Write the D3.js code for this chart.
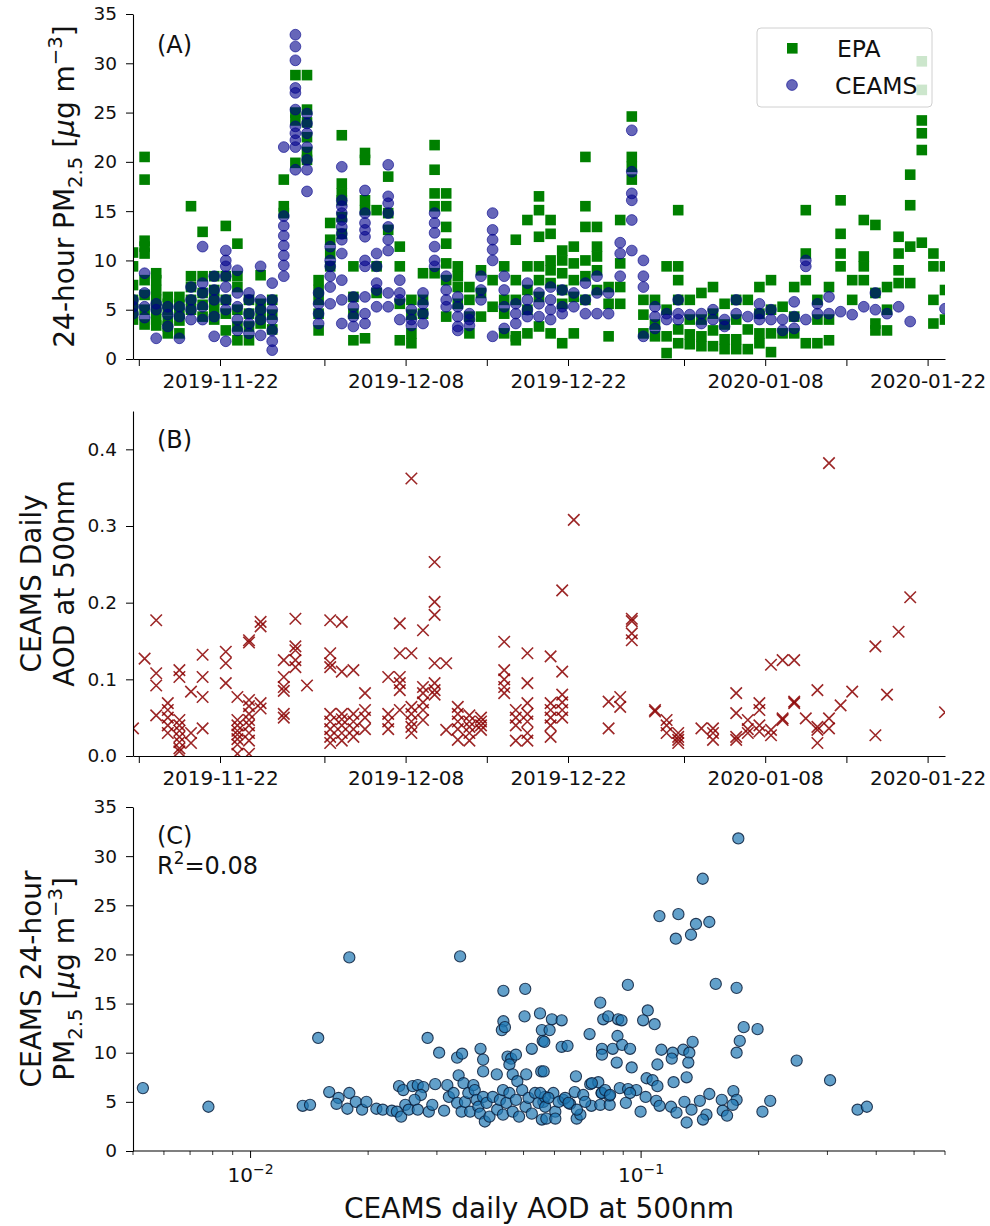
<!DOCTYPE html>
<html>
<head>
<meta charset="utf-8">
<script src="https://cdn.jsdelivr.net/npm/d3@7"></script>
<style>
  body { margin: 0; background: #fff; }
  text { font-family: "DejaVu Sans", sans-serif; fill: #111; }
</style>
</head>
<body>
<svg id="fig" width="990" height="1226"></svg>
<script>
// ---- data -------------------------------------------------------------
// Daily records start on this day; entry i of each daily list is day i (sampled at noon).
const firstDay = "2019-11-14";

// EPA monitor 24-hour PM2.5 (ug m-3), one list per day
const epaPm = [
  [10.8, 9.4, 7.5, 6.0, 5.0, 4.0], [20.5, 18.2, 12.0, 11.4, 10.7, 8.0, 6.5, 5.0, 3.5], [8.7, 8.0, 7.0, 6.0, 5.0, 4.0, 3.4],
  [6.3, 5.6, 5.0, 3.9, 3.3, 2.6], [6.3, 5.5, 4.6, 3.9, 2.6], [15.5, 8.4, 7.3, 6.0, 5.0], [12.9, 8.4, 6.7, 5.5, 4.3],
  [8.4, 7.0, 6.0, 5.0, 4.0], [13.5, 8.4, 6.0, 4.6, 2.9], [11.7, 8.4, 7.3, 5.0, 3.3, 1.9], [6.0, 4.6, 3.3, 1.9],
  [8.5, 5.6, 4.6, 3.6], [6.0, 4.5, 3.0], [18.2, 15.5, 14.8], [28.8, 25.0, 24.2, 19.9],
  [28.8, 25.3, 24.0, 22.5, 21.0, 20.2], [8.0, 7.0, 6.0, 4.6, 2.9], [13.8, 12.1, 10.7, 9.4],
  [22.7, 17.8, 16.8, 16.1, 14.4, 12.7], [9.4, 6.3, 4.6, 1.9], [20.9, 20.2, 16.1, 15.1, 2.1],
  [15.1, 9.4, 6.7], [18.5, 14.8, 13.1], [11.4, 9.4, 5.6, 1.9], [6.0, 4.5, 2.6, 1.6], [8.7, 6.0, 4.6],
  [21.7, 19.2, 16.8, 15.5, 8.7], [16.8, 15.5, 13.4, 11.7, 9.7, 8.0, 4.3], [9.4, 8.4, 7.3, 5.6],
  [7.3, 6.0, 4.3, 2.6], [9.0, 6.7, 4.3], [8.0, 5.3], [9.4, 6.0, 4.6, 2.6], [12.1, 8.0, 6.0, 2.3, 1.9],
  [14.1, 9.4, 7.0, 5.0, 2.6], [16.5, 15.1, 12.4, 9.4, 8.0, 6.3, 3.3], [14.1, 12.7, 10.0, 9.0, 7.7, 2.6],
  [11.0, 10.0, 8.7, 7.0, 5.6, 1.6], [11.4, 9.7, 8.0, 6.3, 2.6], [20.5, 15.5, 13.4, 10.0, 8.4, 6.0],
  [13.4, 11.4, 10.4, 9.0, 7.0], [7.3, 5.6, 2.3], [14.1, 9.7, 7.3, 5.6], [24.6, 20.5, 19.5, 18.2],
  [6.0, 4.5, 2.6], [6.0, 3.5, 2.3], [9.4, 5.0, 2.3, 0.6], [15.1, 9.4, 8.0, 6.0, 3.0, 1.6],
  [6.0, 4.0, 2.5, 1.5], [6.7, 4.0, 2.3, 1.3], [7.3, 4.6, 2.9, 1.3], [5.6, 3.5, 2.0, 1.0],
  [6.0, 4.0, 2.0, 1.0], [6.0, 3.0, 1.0], [7.3, 4.6, 2.6, 1.6], [8.0, 5.0, 2.6, 0.7], [5.3, 2.6],
  [7.3, 4.3, 2.6], [15.1, 10.7, 8.0, 1.6], [6.0, 4.0, 1.6], [7.3, 4.0, 1.9], [16.1, 12.7, 10.7, 9.4],
  [8.0, 6.0], [14.1, 10.4, 9.4, 8.0], [13.6, 6.7, 3.6, 2.9], [7.3, 5.0, 2.9],
  [12.4, 10.7, 9.0, 7.7], [18.7, 15.6, 11.4, 7.7], [30.2, 27.3, 24.2, 22.9, 21.2, 11.8],
  [10.7, 9.4, 6.0, 3.6], [9.4, 7.0, 4.0]
];

// CEAMS 24-hour PM2.5 (ug m-3), one list per day
const ceamsPm = [
  [6.0, 5.3, 4.6], [8.7, 6.7, 5.3, 4.2], [5.6, 5.0, 2.1], [5.3, 4.5, 3.3], [5.3, 4.3, 2.1],
  [7.3, 6.0, 5.0, 4.0], [11.4, 7.7, 6.7, 5.3, 4.0], [8.4, 7.0, 6.0, 4.3, 2.3],
  [11.0, 10.0, 9.4, 8.4, 7.3, 6.0, 5.0, 1.8], [9.0, 6.7, 5.3, 4.0, 2.9], [6.7, 6.0, 4.6, 3.6, 2.6],
  [9.4, 6.0, 5.0, 4.0, 2.4], [7.7, 6.0, 5.0, 4.0, 2.9, 1.8, 0.9],
  [21.5, 14.5, 13.5, 12.5, 11.5, 10.5, 9.5, 8.4],
  [32.9, 31.7, 30.3, 27.5, 27.0, 25.3, 23.6, 22.9, 22.2, 21.5, 19.2],
  [24.9, 23.9, 22.9, 21.5, 20.2, 19.2, 17.0], [6.7, 5.6, 4.6, 3.6], [11.4, 10.0, 9.4, 8.4, 7.3, 5.6],
  [19.5, 16.1, 15.5, 14.8, 14.1, 13.4, 12.7, 12.1, 10.7, 8.0, 6.0, 3.6], [6.3, 5.3, 4.3, 3.3],
  [17.1, 14.8, 13.8, 13.1, 12.4, 10.0, 9.4, 6.3, 4.6, 3.6], [10.7, 9.4, 7.7, 7.0, 5.3],
  [19.7, 16.5, 15.8, 14.8, 13.4, 12.1, 11.0, 6.7, 5.3], [8.0, 6.7, 6.0, 4.0], [5.0, 4.0, 3.4],
  [6.7, 5.6, 4.6, 3.6], [14.8, 13.8, 12.8, 11.4, 10.0, 9.4], [8.4, 7.0, 6.0, 5.3],
  [6.3, 5.3, 4.3, 3.3, 2.9], [4.6, 4.0, 3.4], [8.4, 7.0, 6.0], [14.8, 13.1, 12.1, 11.1, 10.0, 2.3],
  [8.4, 7.0, 5.3, 3.1], [5.6, 4.6, 3.6], [7.7, 6.0, 5.0, 4.3], [6.7, 5.6, 4.3], [7.3, 6.0, 5.0, 4.0],
  [7.0, 5.3, 4.6], [6.7, 5.3], [7.7, 6.0, 4.6], [8.4, 6.7, 4.6], [6.7, 4.6], [11.8, 10.7, 8.4],
  [23.2, 19.0, 16.8, 16.1, 14.1, 11.0], [10.0, 8.4, 7.3, 2.3], [5.3, 4.3, 3.1], [4.6, 4.0],
  [6.0, 4.6, 4.0], [4.5], [4.6, 3.6], [5.0, 4.0], [4.0, 3.3], [6.0, 4.6], [4.3], [5.6, 4.6, 4.0],
  [5.0, 4.0], [4.0, 2.9], [5.8, 4.3, 3.1], [10.0, 9.4, 4.0], [5.6, 4.6], [6.3, 4.6], [4.8], [4.5],
  [5.3], [6.7, 5.0], [4.6], [5.3], [3.8], [], [], [5.1]
];

// CEAMS daily AOD at 500 nm, one list per day
const ceamsAod = [
  [0.036], [0.127], [0.177, 0.108, 0.092, 0.053], [0.069, 0.060, 0.050, 0.040, 0.030],
  [0.112, 0.103, 0.047, 0.040, 0.033, 0.025, 0.018, 0.010, 0.006], [0.084, 0.030, 0.017],
  [0.132, 0.103, 0.077, 0.036], [], [0.136, 0.121, 0.095],
  [0.077, 0.047, 0.040, 0.033, 0.028, 0.022, 0.015, 0.003],
  [0.151, 0.148, 0.073, 0.065, 0.055, 0.047, 0.040, 0.030, 0.020, 0.003],
  [0.175, 0.169, 0.069, 0.062], [], [0.125, 0.103, 0.090, 0.085, 0.055, 0.050],
  [0.179, 0.143, 0.138, 0.125, 0.116], [0.092], [],
  [0.177, 0.134, 0.121, 0.116, 0.055, 0.045, 0.035, 0.025, 0.017],
  [0.175, 0.110, 0.055, 0.048, 0.040, 0.030, 0.020], [0.112, 0.055, 0.045, 0.035, 0.025],
  [0.082, 0.060, 0.050, 0.035], [], [0.103, 0.055, 0.045, 0.035],
  [0.173, 0.134, 0.103, 0.095, 0.086, 0.060], [0.362, 0.134, 0.064, 0.055, 0.045, 0.038, 0.030],
  [0.164, 0.090, 0.082, 0.070, 0.060, 0.047], [0.253, 0.201, 0.184, 0.121, 0.095, 0.086, 0.080],
  [0.121, 0.034], [0.064, 0.055, 0.045, 0.035, 0.021], [0.053, 0.045, 0.038, 0.030, 0.020],
  [0.050, 0.045, 0.040, 0.034], [], [0.149, 0.112, 0.100, 0.090, 0.082], [0.060, 0.050, 0.040, 0.020],
  [0.134, 0.095, 0.069, 0.055, 0.045, 0.030, 0.020], [], [0.130, 0.069, 0.060, 0.050, 0.040, 0.025],
  [0.216, 0.110, 0.080, 0.070, 0.060, 0.050], [0.308], [], [], [0.071, 0.036], [0.077, 0.064],
  [0.179, 0.176, 0.160, 0.151], [], [0.060, 0.058], [0.047, 0.040, 0.030], [0.030, 0.025, 0.021, 0.017],
  [], [0.036], [0.036, 0.030, 0.021], [], [0.082, 0.056, 0.025, 0.021], [0.047, 0.035, 0.030],
  [0.069, 0.060, 0.040, 0.032], [0.119, 0.034, 0.027], [0.125, 0.049, 0.047], [0.125, 0.071, 0.069],
  [0.049], [0.086, 0.038, 0.034, 0.017], [0.382, 0.049, 0.036], [0.066], [0.084], [], [0.143, 0.027],
  [0.080], [0.162], [0.207], [], [], [0.057]
];

// Paired CEAMS AOD and PM2.5 for the scatter panel
const scatterAod = [
  0.0053, 0.0078, 0.0136, 0.0142, 0.0149, 0.0159, 0.0168, 0.0166, 0.0179, 0.0179, 0.0177, 0.0186,
  0.0193, 0.0198, 0.0210, 0.0218, 0.0230, 0.0284, 0.0304, 0.0338, 0.0348, 0.0344, 0.0341, 0.0388,
  0.0394, 0.0394, 0.0427, 0.0444, 0.0505, 0.0444, 0.0440, 0.0448, 0.0503, 0.0455, 0.0465, 0.0478,
  0.0460, 0.0469, 0.0482, 0.0508, 0.0525, 0.0551, 0.0555, 0.0557, 0.0560, 0.0557,
  0.1774, 0.1438, 0.1114, 0.1246, 0.1382, 0.1495, 0.1227, 0.1342, 0.0925, 0.1553, 0.1756, 0.0786,
  0.1040, 0.1012, 0.1083, 0.0800, 0.0824, 0.0873, 0.0891, 0.0591, 0.0626, 0.0583, 0.0565, 0.0738,
  0.0626, 0.0648, 0.0870, 0.0794, 0.0794, 0.0846, 0.0894, 0.0937, 0.0866, 0.0946, 0.0563, 0.0681,
  0.1831, 0.1987, 0.1789, 0.1756, 0.2502, 0.3047, 0.3583, 0.3785, 0.2045, 0.2141, 0.1609, 0.1723,
  0.1756, 0.1716, 0.1618, 0.1660, 0.1495, 0.1414, 0.1470, 0.1440, 0.1355, 0.1282, 0.1329, 0.1321,
  0.1308, 0.1205, 0.1198, 0.1127, 0.1101, 0.1211, 0.1033, 0.1070, 0.1101, 0.1027, 0.1093, 0.1115,
  0.0997, 0.1193, 0.1232, 0.1291, 0.1308, 0.1346, 0.0882, 0.0926, 0.0972, 0.0914, 0.0741, 0.0777,
  0.0792, 0.0829, 0.0676, 0.0711, 0.0746, 0.0786, 0.0831, 0.0684, 0.0699, 0.0596, 0.0632, 0.0658,
  0.0562, 0.0572, 0.0603, 0.0603,
  0.0240, 0.0246, 0.0260, 0.0268, 0.0277, 0.0273, 0.0263, 0.0249, 0.0237, 0.0243, 0.0254, 0.0268,
  0.0286, 0.0292, 0.0297, 0.0313, 0.0319, 0.0322, 0.0331, 0.0338, 0.0347, 0.0351, 0.0354, 0.0361,
  0.0365, 0.0372, 0.0375, 0.0379, 0.0383, 0.0387, 0.0394, 0.0398, 0.0402, 0.0409, 0.0417, 0.0428,
  0.0435, 0.0443, 0.0443, 0.0452, 0.0460, 0.0469, 0.0478, 0.0487, 0.0496, 0.0506, 0.0515, 0.0525,
  0.0535, 0.0546, 0.0567, 0.0552, 0.0568, 0.0579, 0.0615, 0.0639, 0.0652, 0.0685, 0.0719, 0.0748,
  0.0793, 0.0809, 0.0833, 0.0937
];
const scatterPm = [
  6.4, 4.5, 4.6, 4.7, 11.5, 6.0, 5.4, 4.8, 19.7, 5.9, 4.3, 5.0,
  4.2, 5.0, 4.3, 4.2, 4.1, 11.5, 10.0, 9.5, 9.9, 19.8, 7.7, 10.4,
  9.3, 8.1, 7.8, 16.3, 16.5, 13.2, 12.3, 12.6, 13.7, 9.6, 9.4, 9.8,
  8.8, 7.8, 7.1, 7.8, 10.4, 14.0, 8.1, 12.3, 11.2, 3.2,
  31.8, 27.7, 23.9, 24.1, 23.1, 23.3, 21.6, 22.0, 16.9, 17.0, 16.6, 15.1,
  14.3, 13.3, 12.9, 13.4, 13.7, 13.4, 13.3, 13.4, 13.3, 12.3, 11.1, 11.9,
  10.6, 10.7, 11.7, 10.4, 9.8, 10.4, 10.8, 10.4, 9.0, 8.5, 8.1, 7.6,
  12.6, 12.4, 11.2, 10.0, 9.2, 7.2, 4.2, 4.5, 4.0, 5.1, 5.2, 6.1,
  5.2, 4.7, 4.1, 3.6, 5.8, 5.1, 3.7, 3.2, 11.1, 10.3, 10.0, 9.0,
  7.5, 10.0, 9.4, 10.3, 8.8, 7.0, 7.4, 7.2, 6.6, 5.5, 5.1, 4.6,
  4.0, 4.5, 3.9, 5.0, 2.9, 4.2, 6.4, 6.3, 6.2, 4.9, 6.8, 7.0,
  5.9, 5.6, 6.0, 5.7, 4.6, 4.7, 4.7, 3.3, 3.7, 5.9, 5.2, 4.8,
  5.0, 3.3, 4.0, 3.3,
  6.6, 6.2, 6.6, 6.7, 6.5, 5.7, 5.2, 4.7, 4.0, 3.5, 4.2, 4.2,
  4.0, 4.7, 6.8, 4.1, 6.7, 5.5, 5.9, 4.9, 4.0, 6.9, 5.0, 5.9,
  4.0, 6.7, 6.2, 5.2, 4.5, 3.8, 5.5, 3.0, 4.9, 3.5, 5.5, 4.2,
  5.2, 6.2, 3.7, 4.9, 5.9, 4.0, 5.2, 3.5, 6.2, 4.5, 5.4, 3.8,
  5.9, 4.9, 5.5, 5.9, 4.5, 5.4, 5.0, 5.4, 4.9, 4.2, 5.0, 6.9,
  5.9, 6.2, 5.7, 5.9
];

// Axis ticks and labels
const pmTicks = [0, 5, 10, 15, 20, 25, 30, 35];
const aodTicks = [0.0, 0.1, 0.2, 0.3, 0.4];
const dateTicks = ["2019-11-15", "2019-11-22", "2019-12-01", "2019-12-08", "2019-12-15",
                   "2019-12-22", "2020-01-01", "2020-01-08", "2020-01-15", "2020-01-22"];
const dateLabels = ["", "2019-11-22", "", "2019-12-08", "", "2019-12-22", "", "2020-01-08", "", "2020-01-22"];
const logMajor = [0.01, 0.1];
const logMajorExp = ["\u22122", "\u22121"];
const logMinor = [0.005, 0.006, 0.007, 0.008, 0.009, 0.02, 0.03, 0.04, 0.05, 0.06, 0.07, 0.08, 0.09,
                  0.2, 0.3, 0.4, 0.5, 0.6];

// ---- layout -------------------------------------------------------------
const svg = d3.select("#fig");
const left = 133, right = 945;
const boxA = { top: 14, bottom: 359 };
const boxB = { top: 411, bottom: 756 };
const boxC = { top: 807, bottom: 1151 };

const parseDay = d3.utcParse("%Y-%m-%d");
const day0 = parseDay(firstDay);
const dayNoon = i => d3.utcHour.offset(d3.utcDay.offset(day0, i), 12);
const nDays = epaPm.length;

const x = d3.scaleUtc().domain([dayNoon(0), dayNoon(nDays - 1)]).range([left, right]);
const yA = d3.scaleLinear().domain([0, 35]).range([boxA.bottom, boxA.top]);
const yB = d3.scaleLinear().domain([0, 0.45]).range([boxB.bottom, boxB.top]);
const xC = d3.scaleLog().domain([0.005, 0.6]).range([left, right]);
const yC = d3.scaleLinear().domain([0, 35]).range([boxC.bottom, boxC.top]);

const flat = lists => lists.flatMap((vals, i) => vals.map(v => ({ t: dayNoon(i), v })));

// clip regions
const defs = svg.append("defs");
[["clipA", boxA], ["clipB", boxB], ["clipC", boxC]].forEach(([id, b]) => {
  defs.append("clipPath").attr("id", id).append("rect")
    .attr("x", left).attr("y", b.top).attr("width", right - left).attr("height", b.bottom - b.top);
});

function styleAxis(g, size) {
  g.select(".domain").attr("stroke", "#000").attr("stroke-width", 1.1);
  g.selectAll(".tick line").attr("stroke", "#000").attr("stroke-width", 1);
  g.selectAll(".tick text").attr("font-size", size).attr("fill", "#222")
    .attr("font-family", "DejaVu Sans");
}

function dateAxis(bottom) {
  const g = svg.append("g").attr("transform", `translate(0,${bottom})`)
    .call(d3.axisBottom(x).tickValues(dateTicks.map(parseDay))
      .tickFormat((d, i) => dateLabels[i]).tickSize(7).tickPadding(8).tickSizeOuter(0));
  styleAxis(g, 20);
}

function leftAxis(scale, ticks, fmt) {
  const g = svg.append("g").attr("transform", `translate(${left},0)`)
    .call(d3.axisLeft(scale).tickValues(ticks).tickFormat(fmt).tickSize(7).tickPadding(9).tickSizeOuter(0));
  styleAxis(g, 18.5);
}

// rich text: parts = [[text, kind]], kind in "", "sub", "sup", "it"
function richText(sel, parts, size) {
  sel.attr("font-size", size);
  let shift = 0;
  parts.forEach(([str, kind]) => {
    const t = sel.append("tspan").text(str);
    let target = 0;
    if (kind === "sub") { target = 0.28 * size; t.attr("font-size", size * 0.7); }
    if (kind === "sup") { target = -0.42 * size; t.attr("font-size", size * 0.7); }
    if (kind === "it") t.attr("font-style", "italic");
    t.attr("dy", target - shift);
    shift = target;
  });
}

function ylabelLines(cx, cy, lines, size, lineGap) {
  const n = lines.length;
  lines.forEach((parts, k) => {
    const off = (k - (n - 1)) * lineGap;
    const t = svg.append("text")
      .attr("transform", `translate(${cx + off},${cy}) rotate(-90)`)
      .attr("text-anchor", "middle");
    richText(t, parts, size);
  });
}

// ---- panel A: PM2.5 time series -------------------------------------------
const gA = svg.append("g").attr("clip-path", "url(#clipA)");
gA.selectAll("rect.epa").data(flat(epaPm)).join("rect")
  .attr("x", d => x(d.t) - 5.3).attr("y", d => yA(d.v) - 5.3)
  .attr("width", 10.6).attr("height", 10.6).attr("fill", "#008000");
gA.selectAll("circle.ceams").data(flat(ceamsPm)).join("circle")
  .attr("cx", d => x(d.t)).attr("cy", d => yA(d.v)).attr("r", 5.4)
  .attr("fill", "#00008b").attr("fill-opacity", 0.6)
  .attr("stroke", "#00008b").attr("stroke-opacity", 0.6).attr("stroke-width", 1);

leftAxis(yA, pmTicks, d3.format("d"));
dateAxis(boxA.bottom);
ylabelLines(74, (boxA.top + boxA.bottom) / 2,
  [[["24-hour PM", ""], ["2.5", "sub"], [" [", ""], ["\u03bc", "it"], ["g m", ""], ["\u22123", "sup"], ["]", ""]]],
  28, 0);
svg.append("text").attr("x", 157).attr("y", 53).attr("font-size", 24).text("(A)");

// legend
const lg = svg.append("g");
lg.append("rect").attr("x", 757).attr("y", 28).attr("width", 175).attr("height", 79)
  .attr("rx", 4).attr("fill", "#fff").attr("fill-opacity", 0.8)
  .attr("stroke", "#d0d0d0").attr("stroke-width", 1);
lg.append("rect").attr("x", 787).attr("y", 43).attr("width", 10.6).attr("height", 10.6).attr("fill", "#008000");
lg.append("circle").attr("cx", 792).attr("cy", 85).attr("r", 5.4)
  .attr("fill", "#00008b").attr("fill-opacity", 0.6)
  .attr("stroke", "#00008b").attr("stroke-opacity", 0.6);
lg.append("text").attr("x", 837).attr("y", 57).attr("font-size", 23.5).text("EPA");
lg.append("text").attr("x", 835).attr("y", 94).attr("font-size", 23.5).text("CEAMS");

// ---- panel B: AOD time series ---------------------------------------------
const gB = svg.append("g").attr("clip-path", "url(#clipB)");
const cross = d3.symbol().type(d3.symbolX).size(88);
gB.selectAll("path.aod").data(flat(ceamsAod)).join("path")
  .attr("transform", d => `translate(${x(d.t)},${yB(d.v)})`)
  .attr("d", cross).attr("fill", "none")
  .attr("stroke", "#8b0000").attr("stroke-width", 1.6).attr("stroke-opacity", 0.85);

leftAxis(yB, aodTicks, d3.format(".1f"));
dateAxis(boxB.bottom);
ylabelLines(74, (boxB.top + boxB.bottom) / 2,
  [[["CEAMS Daily", ""]], [["AOD at 500nm", ""]]], 28, 33);
svg.append("text").attr("x", 157).attr("y", 448).attr("font-size", 24).text("(B)");

// ---- panel C: PM2.5 vs AOD scatter ----------------------------------------
const gC = svg.append("g").attr("clip-path", "url(#clipC)");
gC.selectAll("circle.pair").data(d3.range(scatterAod.length)).join("circle")
  .attr("cx", i => xC(scatterAod[i])).attr("cy", i => yC(scatterPm[i])).attr("r", 5.6)
  .attr("fill", "#1f77b4").attr("fill-opacity", 0.7)
  .attr("stroke", "#0a1e3c").attr("stroke-opacity", 0.85).attr("stroke-width", 1.1);

leftAxis(yC, pmTicks, d3.format("d"));

const gx = svg.append("g").attr("transform", `translate(0,${boxC.bottom})`);
gx.append("line").attr("x1", left).attr("x2", right).attr("stroke", "#000").attr("stroke-width", 1.1);
gx.selectAll("line.minor").data(logMinor).join("line")
  .attr("x1", d => xC(d)).attr("x2", d => xC(d)).attr("y1", 0).attr("y2", 4)
  .attr("stroke", "#000").attr("stroke-width", 0.8);
gx.selectAll("line.major").data(logMajor).join("line")
  .attr("x1", d => xC(d)).attr("x2", d => xC(d)).attr("y1", 0).attr("y2", 7)
  .attr("stroke", "#000").attr("stroke-width", 1);
logMajor.forEach((v, k) => {
  const t = gx.append("text").attr("x", xC(v)).attr("y", 31).attr("text-anchor", "middle").attr("fill", "#222");
  richText(t, [["10", ""], [logMajorExp[k], "sup"]], 20);
});
svg.append("text").attr("x", (left + right) / 2).attr("y", 1218).attr("text-anchor", "middle")
  .attr("font-size", 28).text("CEAMS daily AOD at 500nm");

ylabelLines(74, (boxC.top + boxC.bottom) / 2,
  [[["CEAMS 24-hour", ""]],
   [["PM", ""], ["2.5", "sub"], [" [", ""], ["\u03bc", "it"], ["g m", ""], ["\u22123", "sup"], ["]", ""]]],
  28, 33);
svg.append("text").attr("x", 157).attr("y", 844).attr("font-size", 24).text("(C)");
const r2 = svg.append("text").attr("x", 157).attr("y", 874);
richText(r2, [["R", ""], ["2", "sup"], ["=0.08", ""]], 24);
</script>
</body>
</html>
